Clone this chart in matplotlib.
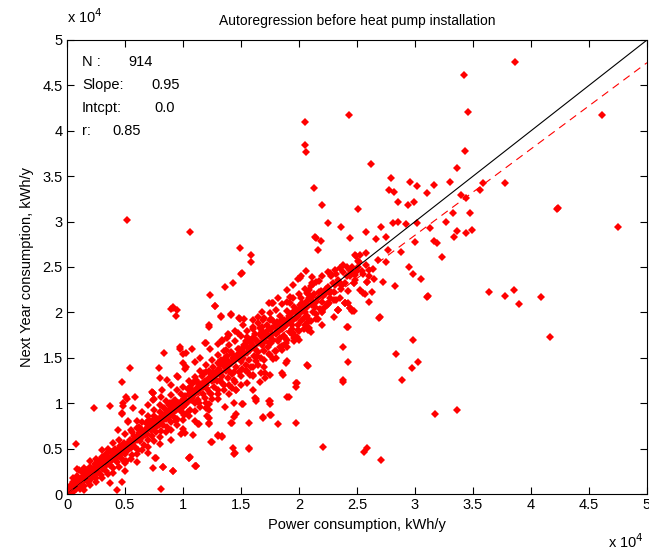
import matplotlib
matplotlib.use("Agg")
import matplotlib.pyplot as plt
import numpy as np

plt.rcParams['font.family'] = ['Liberation Sans', 'DejaVu Sans']

# values, in thousands of kWh/y  (x, y)
core_pts = [
    (0.1,0.2),(0.2,0.6),(0.3,0.1),(0.3,0.9),(0.4,0.4),(0.5,0.8),(0.5,1.3),(0.6,0.3),(0.7,1.0),(0.7,1.6),
    (0.8,0.6),(0.9,1.2),(0.9,2.0),(1.0,0.9),(1.0,1.5),(1.1,0.5),(1.2,1.8),(1.2,1.1),(1.3,2.4),(1.4,1.4),
    (1.5,0.9),(1.5,2.0),(1.6,1.6),(1.7,2.6),(1.8,1.3),(1.8,2.2),(1.9,1.9),(2.0,3.0),(2.0,2.4),(2.1,1.6),
    (2.2,2.8),(2.3,2.1),(2.4,3.3),(2.4,2.6),(2.5,1.8),(2.6,3.0),(2.7,2.4),(2.8,3.6),(2.8,2.9),(2.9,2.1),
    (3.0,3.3),(3.0,4.1),(3.1,2.7),(3.2,3.8),(3.3,3.1),(3.4,4.4),(3.4,2.5),(3.5,3.6),(3.6,4.0),(3.7,3.2),
    (3.8,4.6),(3.9,3.7),(4.0,4.3),(4.0,2.9),(4.1,5.0),(4.2,4.0),(4.3,3.5),(4.4,4.8),(4.5,4.2),(4.6,5.3),
    (4.7,3.8),(4.8,4.6),(4.9,5.6),(5.0,4.4),(5.0,5.0),(5.1,3.6),(5.2,5.4),(5.3,4.8),(5.4,6.0),(5.5,5.1),
    (5.6,4.3),(5.7,5.7),(5.8,6.4),(5.9,5.2),(6.0,6.0),(6.1,4.8),(6.2,6.7),(6.3,5.8),(6.4,7.2),(6.5,6.3),
    (6.6,5.4),(6.7,7.0),(6.8,7.8),(6.9,6.6),(7.0,7.4),(7.0,5.9),(7.1,8.2),(7.2,7.0),(7.3,6.4),(7.4,7.8),
    (7.5,8.6),(7.6,7.3),(7.7,6.8),(7.8,8.3),(7.9,7.6),(8.0,9.0),(8.0,8.0),(8.1,6.9),(8.2,8.6),(8.3,7.6),
    (8.4,9.5),(8.5,8.3),(8.6,7.4),(8.7,9.1),(8.8,8.6),(8.9,10.0),(9.0,8.9),(9.0,7.9),(9.1,9.6),(9.2,8.5),
    (9.3,10.4),(9.4,9.2),(9.5,8.3),(9.6,10.0),(9.7,9.5),(9.8,11.0),(9.9,9.0),(10.0,10.3),(10.0,9.6),(10.1,8.7),
    (10.2,10.8),(10.3,9.9),(10.4,11.6),(10.5,10.4),(10.6,9.3),(10.7,11.2),(10.8,10.6),(10.9,12.2),(11.0,10.0),(11.0,11.0),
    (11.1,12.6),(11.2,11.4),(11.3,10.4),(11.4,12.0),(11.5,11.6),(11.6,13.0),(11.7,11.0),(11.8,12.3),(11.9,10.6),(12.0,12.0),
    (12.0,13.4),(12.1,11.6),(12.2,12.8),(12.3,11.1),(12.4,13.2),(12.5,12.4),(12.6,14.0),(12.7,11.8),(12.8,13.0),(12.9,12.5),
    (13.0,14.4),(13.0,11.5),(13.1,13.3),(13.2,12.6),(13.3,14.8),(13.4,13.0),(13.5,12.0),(13.6,14.0),(13.7,13.5),(13.8,15.2),
    (13.9,12.8),(14.0,14.2),(14.0,13.6),(14.1,15.6),(14.2,13.2),(14.3,14.6),(14.4,12.6),(14.5,15.0),(14.6,14.0),(14.7,16.0),
    (14.8,13.4),(14.9,15.3),(15.0,14.6),(15.0,15.9),(15.1,13.8),(15.2,15.0),(15.3,16.4),(15.4,14.2),(15.5,15.5),(15.6,16.8),
    (15.7,14.8),(15.8,15.9),(15.9,14.0),(16.0,16.3),(16.0,17.2),(16.1,15.2),(16.2,16.0),(16.3,14.6),(16.4,16.8),(16.5,15.6),
    (16.6,17.6),(16.7,15.0),(16.8,16.4),(16.9,17.2),(17.0,15.8),(17.1,16.8),(17.2,18.0),(17.3,16.2),(17.4,15.4),(17.5,17.3),
    (17.6,16.6),(17.7,18.3),(17.8,17.0),(17.9,15.8),(18.0,17.6),(18.1,18.6),(18.2,16.8),(18.3,17.9),(18.4,16.2),(18.5,18.2),
    (18.6,19.0),(18.7,17.4),(18.8,18.5),(18.9,16.6),(19.0,18.8),(19.1,19.6),(19.2,17.8),(19.3,19.0),(19.4,18.2),(19.5,20.0),
    (19.6,17.2),(19.7,19.4),(19.8,20.3),(19.9,18.6),(20.0,19.8),(20.1,20.8),(20.2,19.0),(20.3,20.2),(20.4,18.2),(20.5,20.6),
    (20.6,21.2),(20.7,19.6),(20.8,20.8),(20.9,19.2),(21.0,21.4),(21.2,20.0),(21.3,22.0),(21.4,20.6),(21.6,21.6),(21.8,20.4),
    (21.9,22.4),(22.0,21.2),(22.2,22.0),(22.4,20.8),(22.5,22.8),(22.7,21.6),(22.9,23.2),(23.0,22.2),(23.2,21.4),(23.4,23.6),
    (23.6,22.6),(23.8,24.4),(24.0,23.2),(24.2,22.4),(24.4,24.0),(24.6,25.0),(24.8,23.6),(25.0,24.6),(25.2,25.6),(25.5,24.2),
    (25.8,25.2),(26.0,24.0),
    (0.2,0.3),(0.4,0.7),(0.6,0.9),(0.8,1.1),(1.0,1.2),(1.1,1.4),(1.3,1.6),(1.4,1.9),(1.6,2.1),(1.7,1.8),
    (1.9,2.3),(2.1,2.6),(2.2,2.3),(2.3,2.9),(2.5,2.7),(2.6,2.4),(2.7,3.1),(2.9,3.3),(3.0,2.9),(3.2,3.4),
    (3.3,3.7),(3.5,3.3),(3.6,3.8),(3.8,4.0),(3.9,4.2),(4.1,4.4),(4.2,4.7),(4.4,4.3),(4.5,4.9),(4.7,4.6),
    (4.8,5.1),(5.0,5.4),(5.2,5.0),(5.3,5.6),(5.5,5.8),(5.7,5.3),(5.9,6.1),(6.1,6.4),(6.3,6.1),(6.5,6.8),
    (6.7,6.5),(6.9,7.2),(7.1,7.6),(7.3,7.2),(7.5,7.9),(7.7,7.5),(7.9,8.2),(8.1,8.5),(8.3,8.2),(8.5,8.9),
    (8.7,8.4),(8.9,9.2),(9.1,9.0),(9.3,9.6),(9.5,9.9),(9.7,9.3),(9.9,10.2),(10.1,10.5),(10.3,10.2),(10.5,11.0),
    (10.7,10.4),(10.9,11.3),(11.1,11.6),(11.3,11.2),(11.5,12.1),(11.7,11.8),(11.9,12.5),(12.1,12.3),(12.3,12.8),(12.5,13.0),
    (12.7,12.6),(12.9,13.6),(13.1,13.8),(13.3,13.4),(13.5,14.3),(13.7,13.9),(13.9,14.6),(14.1,14.4),(14.3,15.0),(14.5,14.8),
    (14.7,15.4),(14.9,14.9),(15.1,15.8),(15.3,15.4),(15.5,16.2),(15.7,15.9),(15.9,16.6),(16.1,16.2),(16.3,17.0),(16.5,16.6),
    (16.7,17.4),(16.9,16.8),(17.1,17.6),(17.3,17.4),(17.5,18.2),(17.7,17.6),(17.9,18.5),(18.1,18.0),(18.3,18.8),(18.5,18.4),
    (18.7,19.2),(18.9,18.6),(19.1,19.4),(19.3,19.8),(19.5,19.2),(19.7,20.1),(19.9,19.6),(20.1,20.4),(20.3,21.0),(20.5,20.0),
    (20.7,20.6),(20.9,21.6),(21.1,20.8),(21.5,21.2),(21.7,22.2),(22.1,21.8),(22.3,22.6),(22.6,22.2),(23.1,23.0),(23.5,23.2),
    (24.1,24.0),(24.5,24.4),(25.1,25.0),
]

band_pts = [
    (1.0,2.6),(1.5,2.9),(2.0,3.6),(2.5,3.9),(3.0,4.8),(3.5,5.0),(4.0,5.6),(4.5,6.0),(5.0,6.6),(5.5,7.0),
    (6.0,7.3),(6.5,7.9),(7.0,8.6),(7.5,9.2),(8.0,9.8),(8.5,10.2),(9.0,10.9),(9.5,11.4),(10.0,11.8),(10.5,12.4),
    (11.0,12.9),(11.5,13.6),(12.0,14.2),(12.5,14.8),(13.0,15.3),(13.5,15.8),(14.0,16.4),(14.5,16.8),(15.0,17.4),(15.5,17.9),
    (16.0,18.2),(16.5,18.8),(17.0,19.4),(17.5,19.9),(18.0,20.3),(18.5,20.9),(19.0,21.2),(19.5,21.6),(20.0,22.0),(20.5,22.6),
    (21.0,22.9),(21.5,23.4),(22.0,24.0),(22.5,24.4),
    (1.5,0.4),(2.0,1.0),(2.5,1.3),(3.0,1.8),(3.5,2.2),(4.0,2.3),(4.5,3.0),(5.0,3.4),(5.5,3.9),(6.0,4.4),
    (6.5,4.9),(7.0,5.2),(7.5,5.8),(8.0,6.3),(8.5,6.8),(9.0,7.0),(9.5,7.6),(10.0,8.2),(10.5,8.6),(11.0,9.1),
    (11.5,9.6),(12.0,10.0),(12.5,10.5),(13.0,11.0),(13.5,11.4),(14.0,12.0),(14.5,12.3),(15.0,13.0),(15.5,13.5),(16.0,14.0),
    (16.5,14.2),(17.0,14.8),(17.5,15.3),(18.0,15.8),(18.5,16.3),(19.0,17.0),(19.5,17.5),(20.0,18.0),(20.5,18.6),(21.0,19.0),
    (21.5,19.8),(22.0,20.3),(22.5,20.9),(23.0,21.4),
    (5.6,6.8),(6.2,7.4),(6.8,7.0),(7.3,8.0),(8.8,9.8),(9.2,10.2),(10.6,11.8),(11.2,12.3),(11.8,13.3),(12.2,13.6),
    (12.6,13.4),(13.2,14.2),(13.6,15.0),(14.2,15.4),(14.8,16.0),(15.4,16.9),(15.8,17.0),(16.2,17.6),(16.8,18.0),(17.2,18.6),
    (17.8,19.0),(18.4,19.6),(19.0,20.2),(19.6,20.6),(20.2,21.6),(20.8,22.0),(9.4,8.0),(10.4,9.0),(11.4,10.0),(12.4,11.0),
    (13.4,12.2),(14.4,13.4),(15.4,13.6),(16.4,15.2),(17.4,16.6),(18.4,17.2),(19.4,18.6),(20.4,19.4),
]

spread_pts = [
    (6.0,8.0),(6.5,9.0),(7.0,9.8),(7.5,10.5),(8.2,11.5),(9.0,12.0),(9.5,13.0),(10.2,13.8),(11.0,14.5),(11.5,15.0),
    (12.3,16.0),(13.0,16.5),(13.8,17.2),(14.5,18.0),(15.2,18.6),(16.0,19.2),(16.8,20.0),(17.4,21.0),(18.2,21.6),(19.0,22.5),
    (19.5,23.0),(20.2,24.0),(8.0,5.5),(9.0,6.0),(10.0,7.2),(11.0,8.0),(12.0,9.5),(13.0,10.5),(14.0,11.0),(15.0,12.0),
    (16.0,13.0),(17.0,14.0),(18.0,15.0),(19.0,16.2),(20.0,17.0),(21.0,17.8),(22.0,18.6),(23.0,19.5),(6.0,3.5),(7.0,4.5),
    (5.0,2.5),
    (2.3,9.5),(3.7,9.7),(0.8,5.5),(5.1,10.7),(5.9,10.7),(7.4,11.1),(8.1,10.7),(4.8,9.7),(4.7,8.8),(5.7,9.5),
    (4.4,7.0),(5.3,7.9),(7.6,4.0),(7.4,2.9),(8.3,3.0),(9.1,2.5),(10.5,4.0),(11.1,3.1),(8.1,0.6),(4.3,0.4),
    (4.7,1.3),(3.7,1.2),(0.9,2.8),(1.6,2.5),(0.5,1.8),(12.5,5.7),(10.9,6.5),(11.4,7.7),(12.2,8.4),(12.2,7.7),
    (12.2,9.2),(10.2,6.7),(5.4,13.9),(4.7,12.3),(5.2,10.5),(4.8,10.0),(4.7,8.9),(5.3,8.0),(7.9,13.9),(8.0,12.8),
    (8.4,15.5),(7.3,11.2),(7.4,10.4),(9.7,16.0),(10.0,15.4),(10.8,16.0),(10.3,15.5),(8.6,12.6),(9.6,12.9),(9.7,16.2),
    (10.0,14.4),(10.3,14.0),(11.9,16.6),(12.2,18.6),(13.3,19.6),(14.1,19.7),(14.8,19.4),(14.0,17.5),(13.4,16.9),(14.7,17.7),
    (13.7,15.9),(15.1,16.0),(15.8,16.2),(16.5,19.5),(16.0,18.4),(16.8,18.4),(17.5,19.2),(18.1,18.9),(17.8,14.9),(18.9,14.4),
    (18.5,13.3),(18.6,13.1),(17.1,13.3),(17.1,12.8),(15.8,13.1),(14.6,11.5),(16.0,11.5),(16.3,10.5),(17.4,10.2),(19.0,10.7),
    (19.8,12.2),(19.5,17.7),(19.6,16.8),(19.8,19.9),(9.1,20.6),(9.0,20.4),(9.5,20.3),(9.4,19.6),(12.8,20.7),(13.3,19.5),
    (14.1,19.8),(14.9,19.3),(16.9,19.2),(17.6,19.3),(17.8,21.0),(19.2,21.0),(12.2,18.4),(12.0,16.6),(13.9,17.6),(13.4,17.0),
    (16.6,18.3),(18.5,19.2),(19.2,17.8),(19.9,18.1),(19.8,17.3),(20.8,18.1),(21.6,19.3),(22.2,20.6),(23.4,20.3),(24.0,21.0),
    (24.6,20.2),(24.1,18.4),(20.7,14.2),(18.5,15.9),(19.0,14.6),(17.5,13.1),(16.7,13.3),(16.6,12.3),(16.0,13.1),(16.2,10.6),
    (15.2,9.9),(14.2,11.7),(17.5,10.2),(16.9,8.5),(17.6,8.7),(18.2,7.7),(19.7,7.8),(15.7,7.8),(14.2,7.8),(13.4,6.4),
    (13.0,6.4),(14.5,4.5),(15.7,5.0),(12.1,8.6),(11.3,7.7),(10.6,4.1),(11.0,3.1),(7.7,4.0),
    (19.7,12.2),(19.7,11.8),(23.8,12.3),(19.1,10.7),(17.5,9.9),(16.3,10.2),(15.1,9.9),(14.4,10.0),(14.6,8.8),(14.4,8.5),
    (14.1,7.8),(16.9,8.4),(17.5,8.7),(15.7,5.1),(14.3,5.1),(14.4,4.4),(13.0,6.5),(13.4,6.3),(12.4,5.7),(12.2,7.8),
    (12.2,9.9),(13.6,9.6),(14.6,11.5),(15.5,12.2),(9.8,6.6),(10.5,4.0),(11.1,3.1),(9.1,2.5),(8.3,3.0),(7.4,11.1),
    (14.9,27.1),(15.9,26.3),(15.9,25.6),(15.0,24.2),(14.3,23.2),(13.6,22.8),(12.3,21.9),(12.8,20.7),(9.1,20.5),(17.7,21.0),
    (21.5,28.2),(19.9,23.7),(19.2,21.7),(15.1,24.3),(20.9,22.5),(22.7,24.3),(23.5,24.9),(24.8,26.3),(27.0,19.5),(15.3,19.3),
    (16.0,17.2),(15.5,17.3),(18.8,17.2),
    (23.4,20.3),(23.5,21.6),(24.0,21.0),(24.2,21.0),(24.4,20.5),(24.7,20.2),(23.6,23.0),(24.7,23.2),(25.7,22.0),(25.9,23.3),
    (21.5,19.3),(20.9,18.3),(20.8,18.9),(22.0,20.0),(21.2,23.1),
]

outlier_pts = [
    (38.6,47.6),(34.2,46.1),(34.6,42.1),(24.3,41.7),(20.5,41.0),(20.5,38.4),(20.6,37.7),(46.1,41.7),(34.3,37.8),(26.2,36.3),
    (21.3,33.7),(22.0,31.8),(42.3,31.5),(47.5,29.4),(5.2,30.2),(10.6,28.9),(33.6,35.9),(25.1,31.4),(27.9,34.8),(27.8,33.5),
    (28.2,33.3),(28.5,32.2),(29.4,31.8),(29.9,32.2),(29.6,34.4),(30.2,33.9),(31.0,33.2),(31.6,34.0),(33.0,34.4),(33.3,30.9),
    (34.0,32.9),(34.4,32.6),(34.7,30.9),(35.6,33.5),(35.9,34.2),(37.8,34.2),(42.2,31.4),(22.5,29.8),(23.6,29.4),(24.4,28.2),
    (25.8,28.9),(26.6,28.1),(27.1,29.4),(27.5,28.3),(28.1,29.8),(28.5,30.0),(29.2,29.7),(30.2,29.8),(31.3,29.3),(31.6,27.9),
    (31.9,27.6),(32.7,30.0),(33.4,28.3),(33.6,29.0),(34.4,28.7),(34.9,29.1),(32.3,26.1),(21.4,28.3),(21.9,27.9),(21.6,26.9),
    (20.6,24.6),(21.1,23.9),(21.7,23.5),(25.3,26.3),(25.8,26.5),(24.9,26.2),(25.1,25.7),(26.0,24.7),(26.4,24.8),(26.8,25.8),
    (27.5,25.5),(27.7,26.9),(24.1,25.0),(24.4,24.7),(23.8,25.2),(23.1,24.7),(22.8,24.0),(23.2,24.2),(24.8,24.1),(25.4,24.6),
    (26.5,23.7),(25.9,23.3),(25.3,22.5),(25.5,22.1),(24.7,23.2),(23.7,23.0),(22.8,22.2),(21.1,23.2),(20.7,22.1),(21.1,21.7),
    (20.1,23.8),(28.3,22.9),(29.5,25.0),(29.8,24.2),(30.5,23.7),(31.0,21.7),(36.4,22.2),(37.8,21.8),(38.5,22.5),(40.9,21.7),
    (39.0,20.9),(41.6,17.3),(31.1,21.8),(26.9,19.4),(24.2,18.4),(23.8,16.2),(24.2,14.5),(23.8,12.6),(20.8,14.1),(28.4,15.4),
    (29.8,17.0),(30.3,14.5),(29.7,13.9),(28.9,12.6),(31.7,8.8),(33.6,9.3),(22.1,5.2),(25.6,4.6),(25.9,5.1),(27.1,3.7),
    (23.4,20.3),(24.0,21.0),(24.4,20.5),(22.0,20.0),(26.0,21.2),(27.2,23.4),(28.8,26.6),(30.0,27.8),(26.3,22.2),(22.6,21.0),
]

all_pts = np.array(core_pts + band_pts + spread_pts + outlier_pts) * 1000.0
slope = 0.95
n_points = 914
r_value = 0.85

fig = plt.figure(figsize=(6.49, 5.5), dpi=100)
ax = fig.add_axes([67/649, 56/550, 580/649, 454/550])

ax.plot(all_pts[:, 0], all_pts[:, 1], linestyle='none', marker='D', markersize=4.2,
        color='red', markeredgewidth=0)
line_x = np.array([0, 50000])
ax.plot(line_x, line_x, color='black', linewidth=0.8)
ax.plot(line_x, slope * line_x, color='red', linewidth=0.8, linestyle=(0, (7, 5)))

ax.set_xlim(0, 50000)
ax.set_ylim(0, 50000)
ticks = np.arange(0, 50001, 5000)
tick_labels = ['0', '0.5', '1', '1.5', '2', '2.5', '3', '3.5', '4', '4.5', '5']
ax.set_xticks(ticks)
ax.set_xticklabels(tick_labels)
ax.set_yticks(ticks)
ax.set_yticklabels(tick_labels)
ax.tick_params(direction='in', top=True, right=True, length=5, width=0.8,
               labelsize=10.5, pad=3)
for s in ax.spines.values():
    s.set_linewidth(0.8)

ax.set_title('Autoregression before heat pump installation', fontsize=10, pad=11)
ax.set_xlabel('Power consumption, kWh/y', fontsize=10.5, labelpad=4)
ax.set_ylabel('Next Year consumption, kWh/y', fontsize=10.5, labelpad=6)

fig.text(67/649, 1 - 17/550, r'x 10$^4$', fontsize=10.5, va='center', ha='left')
fig.text(608/649, 1 - 542/550, r'x 10$^4$', fontsize=10.5, va='center', ha='left')

stats_labels = ['N :', 'Slope:', 'Intcpt:', 'r:']
stats_values = ['%d' % n_points, '%.2f' % slope, '0.0', '%.2f' % r_value]
value_x = [128, 151, 154, 112]
for i in range(4):
    yy = (494 - (62 + 23 * i)) / 454
    ax.text(15/580, yy, stats_labels[i], transform=ax.transAxes, fontsize=10.5, va='center')
    ax.text((value_x[i] - 67)/580, yy, stats_values[i], transform=ax.transAxes, fontsize=10.5, va='center')

fig.savefig('out.png', dpi=100)
